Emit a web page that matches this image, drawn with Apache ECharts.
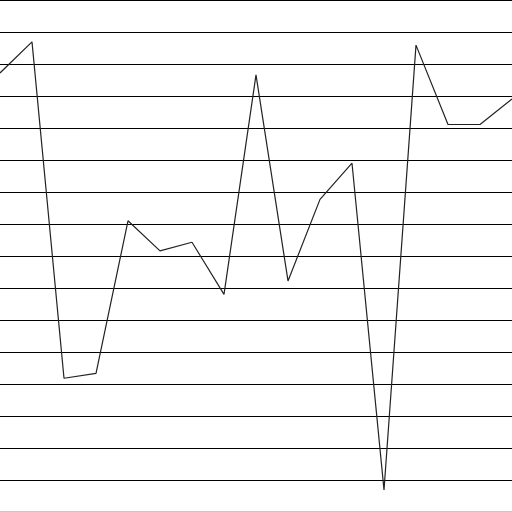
<!DOCTYPE html>
<html>
<head>
<meta charset="utf-8">
<style>html,body{margin:0;padding:0;background:#fff;}#chart{width:512px;height:512px;}</style>
<script src="https://cdn.jsdelivr.net/npm/echarts@6/dist/echarts.min.js"></script>
</head>
<body>
<div id="chart"></div>
<script>
const categories = ['1','2','3','4','5','6','7','8','9','10','11','12','13','14','15','16','17'];
const values = [13.72, 14.69, 4.18, 4.33, 9.1, 8.16, 8.43, 6.80, 13.66, 7.22, 9.77, 10.9, 0.69, 14.59, 12.11, 12.11, 12.91];
const chart = echarts.init(document.getElementById('chart'));
chart.setOption({
  animation: false,
  grid: {left: 0, right: 0, top: 0, bottom: 0},
  xAxis: {type: 'category', data: categories, boundaryGap: false, offset: -1,
    axisLine: {show: true, onZero: false, lineStyle: {color: '#c8c8c8', width: 1}},
    axisTick: {show: false}, axisLabel: {show: false}, splitLine: {show: false}},
  yAxis: {type: 'value', min: 0, max: 16, interval: 1,
    axisLine: {show: false}, axisTick: {show: false}, axisLabel: {show: false},
    splitLine: {show: true, lineStyle: {color: '#000', width: 1}}},
  series: [{type: 'line', data: values, symbol: 'none',
    lineStyle: {color: '#222', width: 1.2}}]
});
</script>
</body>
</html>
